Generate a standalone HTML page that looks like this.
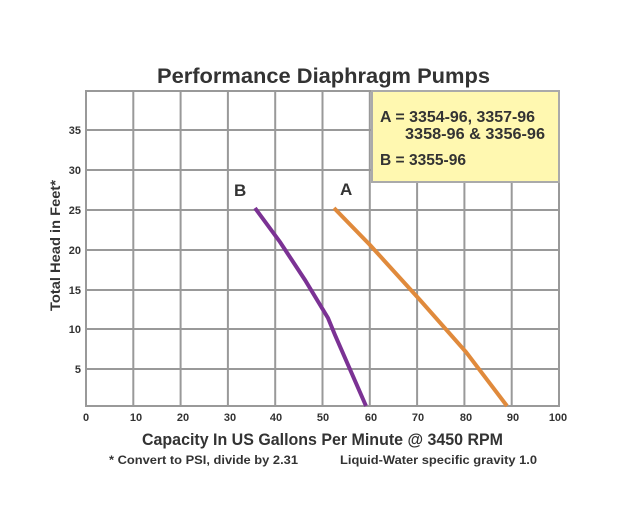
<!DOCTYPE html>
<html><head><meta charset="utf-8"><style>
html,body{margin:0;padding:0;background:#fff;}
svg{display:block;}
text{font-family:"Liberation Sans",sans-serif;font-weight:bold;fill:#333;}
</style></head><body>
<svg width="625" height="525" viewBox="0 0 625 525" xmlns="http://www.w3.org/2000/svg">
<text x="157" y="83" font-size="21" textLength="333" lengthAdjust="spacingAndGlyphs">Performance Diaphragm Pumps</text>
<rect x="86" y="91" width="473" height="315" fill="#fff" stroke="#999" stroke-width="2"/>
<g stroke="#999" stroke-width="2">
<line x1="133.3" y1="91" x2="133.3" y2="406"/>
<line x1="180.6" y1="91" x2="180.6" y2="406"/>
<line x1="227.9" y1="91" x2="227.9" y2="406"/>
<line x1="275.2" y1="91" x2="275.2" y2="406"/>
<line x1="322.5" y1="91" x2="322.5" y2="406"/>
<line x1="369.8" y1="91" x2="369.8" y2="406"/>
<line x1="417.1" y1="91" x2="417.1" y2="406"/>
<line x1="464.4" y1="91" x2="464.4" y2="406"/>
<line x1="511.7" y1="91" x2="511.7" y2="406"/>
<line x1="86" y1="130" x2="559" y2="130"/>
<line x1="86" y1="170" x2="559" y2="170"/>
<line x1="86" y1="210" x2="559" y2="210"/>
<line x1="86" y1="250" x2="559" y2="250"/>
<line x1="86" y1="290" x2="559" y2="290"/>
<line x1="86" y1="329" x2="559" y2="329"/>
<line x1="86" y1="369" x2="559" y2="369"/>
</g>
<rect x="372" y="91" width="187" height="91" fill="#fff8b0" stroke="#aaa" stroke-width="2"/>
<text x="380" y="122" font-size="16" textLength="155" lengthAdjust="spacingAndGlyphs">A = 3354-96, 3357-96</text>
<text x="405" y="139" font-size="16" textLength="140" lengthAdjust="spacingAndGlyphs">3358-96 &amp; 3356-96</text>
<text x="380" y="165" font-size="16" textLength="86" lengthAdjust="spacingAndGlyphs">B = 3355-96</text>
<polyline points="255,208 280,242 305,280 328,318 335,335 366,406" fill="none" stroke="#7b3294" stroke-width="4"/>
<polyline points="334,208 370,245 420,300 466,352 507,406" fill="none" stroke="#e08a3c" stroke-width="4"/>
<text x="234" y="196" font-size="17">B</text>
<text x="340" y="195" font-size="17">A</text>
<g font-size="11" text-anchor="end">
<text x="81" y="134">35</text><text x="81" y="174">30</text><text x="81" y="214">25</text>
<text x="81" y="254">20</text><text x="81" y="294">15</text><text x="81" y="333">10</text><text x="81" y="373">5</text>
</g>
<g font-size="11" text-anchor="middle">
<text x="86" y="421">0</text><text x="136" y="421">10</text><text x="183" y="421">20</text>
<text x="230" y="421">30</text><text x="276" y="421">40</text><text x="323" y="421">50</text>
<text x="371" y="421">60</text><text x="418" y="421">70</text><text x="466" y="421">80</text>
<text x="513" y="421">90</text><text x="558" y="421">100</text>
</g>
<text x="142" y="445" font-size="17" textLength="361" lengthAdjust="spacingAndGlyphs">Capacity In US Gallons Per Minute @ 3450 RPM</text>
<text x="109" y="464" font-size="12" textLength="189" lengthAdjust="spacingAndGlyphs">* Convert to PSI, divide by 2.31</text>
<text x="340" y="464" font-size="12" textLength="197" lengthAdjust="spacingAndGlyphs">Liquid-Water specific gravity 1.0</text>
<text transform="translate(60,311) rotate(-90)" font-size="14" textLength="131" lengthAdjust="spacingAndGlyphs">Total Head in Feet*</text>
</svg>
</body></html>
